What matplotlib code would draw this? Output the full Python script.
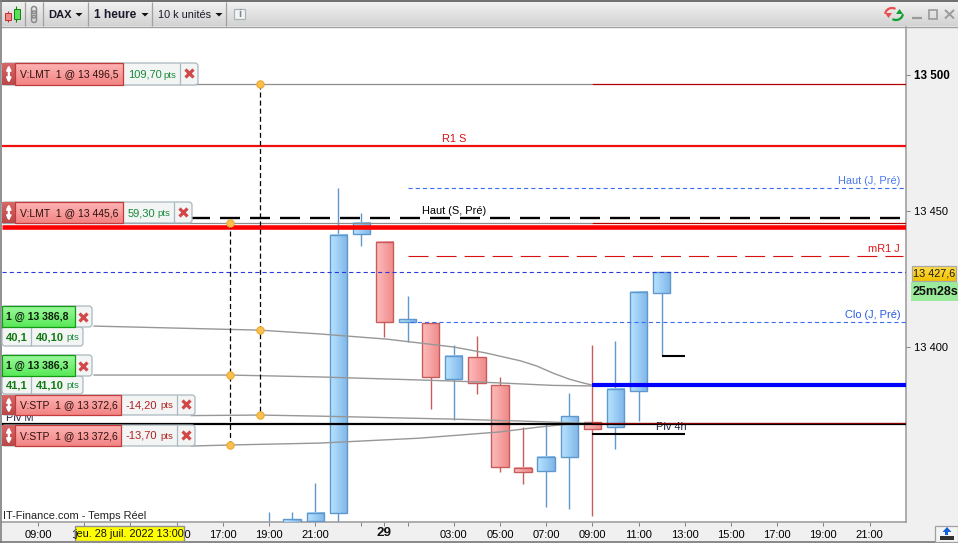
import numpy as np
import matplotlib
matplotlib.use('Agg')
import matplotlib.pyplot as plt
from matplotlib.colors import to_rgb
from matplotlib.patches import Rectangle, FancyBboxPatch, Polygon, Arc

plt.rcParams['font.family'] = ['Liberation Sans', 'DejaVu Sans']
plt.rcParams['lines.scale_dashes'] = False
plt.rcParams['lines.solid_capstyle'] = 'butt'
plt.rcParams['lines.dash_capstyle'] = 'butt'

# heures depuis le 28 juil. 00:00
hours = [19, 20, 21, 22, 23, 24, 25, 26, 27, 28, 29, 30, 31, 32, 33, 34, 35, 36]
opens = [13333.0, 13333.0, 13336.0, 13339.0, 13441.5, 13438.6, 13409.2, 13408.8, 13388.2,
         13396.3, 13386.0, 13355.5, 13354.4, 13359.6, 13372.4, 13370.6, 13383.8, 13419.9]
closes = [13334.0, 13336.8, 13339.0, 13441.2, 13445.6, 13409.2, 13410.3, 13389.0, 13396.7,
          13386.8, 13355.9, 13354.0, 13359.6, 13374.6, 13369.9, 13384.6, 13420.2, 13427.6]
highs = [13339.3, 13339.3, 13350.0, 13458.5, 13449.3, 13438.6, 13418.8, 13408.8, 13400.7,
         13404.0, 13389.0, 13370.6, 13372.1, 13383.1, 13400.7, 13402.2, 13420.2, 13427.6]
lows = [13330.0, 13330.0, 13334.0, 13334.0, 13437.1, 13403.7, 13401.8, 13377.2, 13373.2,
        13382.7, 13354.0, 13349.6, 13341.2, 13340.4, 13337.9, 13362.5, 13372.8, 13396.7]

last_price = 13427.6
r1_s = 13473.9
haut_j = 13458.5
haut_s = 13447.4
order_lmt1 = 13496.5
order_lmt2 = 13445.6
red_thick = 13444.1
mr1_j = 13433.6
clo_j = 13409.2
blue_thick = 13386.0
piv_m = 13371.7
piv_4h = 13368.0

# courbes des ordres
c1_h = [11.4, 18.6, 21.2, 24.1, 27.0, 28.4, 29.9, 30.6, 31.3, 32.0, 32.6, 33.0]
c1_p = [13407.7, 13406.2, 13404.8, 13402.9, 13400.0, 13397.8, 13394.9, 13393.0, 13390.4, 13388.2, 13386.8, 13386.0]
c2_h = [11.4, 17.3, 21.2, 27.0, 29.0, 31.3, 33.0]
c2_p = [13389.7, 13389.7, 13389.0, 13387.5, 13386.8, 13385.9, 13385.7]
c3_h = [15.6, 18.6, 21.2, 27.0, 29.9, 33.0]
c3_p = [13374.8, 13375.0, 13374.6, 13373.5, 13372.8, 13371.9]
c4_h = [15.6, 17.3, 21.2, 25.5, 29.0, 30.7, 32.0, 33.0]
c4_p = [13363.6, 13364.0, 13364.7, 13366.5, 13368.8, 13370.6, 13371.7, 13371.8]

dots_h = [18.6, 18.6, 18.6, 17.3, 17.3, 17.3]
dots_p = [order_lmt1, 13406.2, 13375.0, order_lmt2, 13389.7, 13364.0]

xtick_pos = [9, 11, 13, 15, 17, 19, 21, 24, 27, 29, 31, 33, 35, 37, 39, 41, 43, 45]
xtick_lab = ['09:00', '11:00', '13:00', '15:00', '17:00', '19:00', '21:00', '', '03:00', '05:00',
             '07:00', '09:00', '11:00', '13:00', '15:00', '17:00', '19:00', '21:00']
xminor_pos = [23, 25]
ytick_pos = [13400, 13450, 13500]
ytick_lab = ['13 400', '13 450', '13 500']

W, H = 958, 543
PANEL = '#f0f0f0'
EDGE = '#a0a0a0'


def grad(ax, x0, x1, y0, y1, c0, c1, vertical=False, zorder=2):
    t = np.linspace(0, 1, 32)[:, None]
    arr = np.array(to_rgb(c0)) * (1 - t) + np.array(to_rgb(c1)) * t
    arr = arr[:, None, :] if vertical else arr[None, :, :]
    ax.imshow(arr, extent=(x0, x1, y1, y0), aspect='auto', origin='upper',
              interpolation='nearest', zorder=zorder)


fig = plt.figure(figsize=(W / 100, H / 100), dpi=100, facecolor=PANEL)
ax = fig.add_axes([2 / W, 1 - 522 / H, 904 / W, 495 / H])
ax.set_xlim(7.44, 46.58)
ax.set_ylim(13335.7, 13517.6)
ax.autoscale(False)

# bougies
body_w = 0.75
for h, o, c, hi, lo in zip(hours, opens, closes, highs, lows):
    up = c >= o
    edge = '#5f98cc' if up else '#c75c5c'
    ax.plot([h, h], [lo, hi], color=edge, lw=1.0, zorder=2)
    x0, x1 = h - body_w / 2, h + body_w / 2
    top, bot = max(o, c), min(o, c)
    if h == 19:
        continue
    grad(ax, x0, x1, bot, top, '#b8e5ff' if up else '#ffbcbc', '#7fb5e8' if up else '#ef8a8a', zorder=3)
    ax.add_patch(Rectangle((x0, bot), body_w, top - bot, fc='none', ec=edge, lw=1.0, zorder=4))

xl, xr = ax.get_xlim()
ax.plot([xl, xr], [r1_s, r1_s], color='#f01010', lw=1.6, zorder=5)
ax.plot([25, xr], [haut_j, haut_j], color='#3a6cf0', lw=0.8, ls=(0, (3, 2.2)), zorder=5)
ax.plot([15.6, xr], [haut_s, haut_s], color='black', lw=1.7, ls=(0, (14.4, 7.2)), zorder=5)
ax.plot([xl, 33], [order_lmt1, order_lmt1], color='#8c8c8c', lw=0.9, zorder=5)
ax.plot([33, xr], [order_lmt1, order_lmt1], color='#b00000', lw=0.9, zorder=5)
ax.plot([xl, 33], [order_lmt2, order_lmt2], color='#8c8c8c', lw=0.9, zorder=5)
ax.plot([33, xr], [order_lmt2, order_lmt2], color='#b00000', lw=0.9, zorder=5)
ax.plot([xl, xr], [red_thick, red_thick], color='#ff0000', lw=3.3, zorder=6)
ax.plot([25, 46.43], [mr1_j, mr1_j], color='#d81010', lw=0.8, ls=(0, (14.4, 5.8)), zorder=5)
ax.plot([xl, xr], [last_price, last_price], color='#2a3ad8', lw=0.8, ls=(0, (3, 2.2)), zorder=5)
ax.plot([25.1, xr], [clo_j, clo_j], color='#3a6cf0', lw=0.8, ls=(0, (3, 2.2)), zorder=5)
ax.plot([33, xr], [blue_thick, blue_thick], color='#0000ff', lw=3.0, zorder=6)
ax.plot([33, 37], [piv_4h, piv_4h], color='black', lw=1.5, zorder=6)
ax.plot([36, 37], [lows[-1], lows[-1]], color='black', lw=1.5, zorder=6)

for ch, cp in [(c1_h, c1_p), (c2_h, c2_p), (c3_h, c3_p), (c4_h, c4_p)]:
    ax.plot(ch, cp, color='#979797', lw=1.0, zorder=5)

ax.plot([xl, xr], [piv_m, piv_m], color='black', lw=1.6, zorder=6)
ax.plot([33, xr], [piv_m + 0.4, piv_m + 0.4], color='#8a0000', lw=0.8, zorder=7)

ax.plot([18.6, 18.6], [order_lmt1, 13375.0], color='black', lw=0.9, ls=(0, (3.6, 2.2)), zorder=7)
ax.plot([17.3, 17.3], [order_lmt2, 13364.0], color='black', lw=0.9, ls=(0, (3.6, 2.2)), zorder=7)
ax.scatter(dots_h, dots_p, s=28, color='#fbc04e', edgecolor='#eba92f', linewidth=0.8, zorder=8)

# libelles des niveaux
lab = dict(fontsize=7.9, va='center', zorder=9)
ax.text(27.02, r1_s + 2.6, 'R1 S', color='#d81010', ha='center', **lab)
ax.text(46.33, haut_j + 2.6, 'Haut (J, Pré)', color='#4a78f0', ha='right', **lab)
ax.text(27.02, haut_s + 2.6, 'Haut (S, Pré)', color='black', ha='center', **lab)
ax.text(46.33, mr1_j + 2.6, 'mR1 J', color='#e01818', ha='right', **lab)
ax.text(46.33, clo_j + 2.6, 'Clo (J, Pré)', color='#2a5ae0', ha='right', **lab)
ax.text(36.4, piv_4h + 2.6, 'Piv 4h', color='#222244', ha='center', zorder=5, fontsize=7.9, va='center')
ax.text(7.6, piv_m + 2.2, 'Piv M', color='#222244', ha='left', zorder=5, fontsize=7.9, va='center')

for s in ['top', 'left']:
    ax.spines[s].set_visible(False)
for s in ['bottom', 'right']:
    ax.spines[s].set_color(EDGE)
    ax.spines[s].set_linewidth(1.2)
ax.yaxis.tick_right()
ax.set_yticks(ytick_pos, ytick_lab)
ax.set_xticks(xtick_pos, xtick_lab)
ax.set_xticks(xminor_pos, minor=True)
ax.tick_params(axis='both', which='both', length=3, width=0.7, color='#808080', labelsize=8, pad=3)
ax.tick_params(axis='y', pad=2.4)
for t in ax.get_yticklabels():
    if t.get_text() == '13 500':
        t.set_fontweight('bold')
        t.set_fontsize(8.4)

# calque interface en pixels
ui = fig.add_axes([0, 0, 1, 1])
ui.set_xlim(0, W)
ui.set_ylim(H, 0)
ui.autoscale(False)
ui.axis('off')
ui.patch.set_alpha(0)

ui.text(384, 533.5, '29', fontsize=9.6, fontweight='bold', ha='center', va='center', color='#111111')

# barre du haut
grad(ui, 0, W, 2, 26, '#f2f2f2', '#d2d2d2', vertical=True, zorder=1)
ui.plot([0, W], [1, 1], color='#6e6e6e', lw=1.4, zorder=2)
ui.plot([0, W], [26.5, 26.5], color=EDGE, lw=1.0, zorder=2)
ui.plot([0.7, 0.7], [0, H], color='#808080', lw=1.2, zorder=2)
ui.plot([0, W], [542, 542], color='#777777', lw=1.2, zorder=2)
for sx in [25.5, 43.5, 88, 152.5, 226]:
    ui.plot([sx, sx], [2, 26], color=EDGE, lw=0.9, zorder=2)
ui.text(48, 14.5, 'DAX', fontsize=8, fontweight='bold', va='center', color='#1a1a2a')
ui.text(94, 14.5, '1 heure', fontsize=8.6, fontweight='bold', va='center', color='#1a1a2a')
ui.text(158, 14.5, '10 k unités', fontsize=7.8, va='center', color='#1a1a2a')
for tx in [79, 145, 219]:
    ui.add_patch(Polygon([(tx - 3.5, 13), (tx + 3.5, 13), (tx, 16.5)], fc='#111111', ec='none', zorder=3))

# icones
ui.plot([8, 8], [11, 22], color='#d03030', lw=0.8, zorder=3)
ui.add_patch(Rectangle((5.5, 13), 6, 7, fc='#f08a8a', ec='#c03030', lw=0.7, zorder=4))
ui.plot([16.5, 16.5], [6, 22], color='#108010', lw=0.8, zorder=3)
ui.add_patch(Rectangle((14, 9), 6, 9.5, fc='#58e058', ec='#108010', lw=0.7, zorder=4))
for cy in [10, 14.5, 19]:
    ui.add_patch(FancyBboxPatch((31.5, cy - 3.5), 5, 7, boxstyle='round,pad=0,rounding_size=2.4',
                                fc='none', ec='#8a8a8a', lw=1.1, zorder=4))
ui.add_patch(Rectangle((234.5, 8.5), 10.5, 10.5, fc='#f4f4f4', ec='#a8b4b8', lw=0.9, zorder=3))
ui.text(239.8, 14, 'i', fontsize=8, fontweight='bold', color='#7a8a90', ha='center', va='center', zorder=4)
ui.add_patch(Arc((892, 15), 14, 14, theta1=190, theta2=300, color='#e85050', lw=1.6, zorder=4))
ui.add_patch(Polygon([(885, 13), (892, 13), (888.5, 18)], fc='#e85050', ec='none', zorder=4))
ui.add_patch(Arc((896, 13), 14, 14, theta1=10, theta2=120, color='#10a030', lw=1.6, zorder=4))
ui.add_patch(Polygon([(896, 14), (903, 14), (899.5, 9)], fc='#10a030', ec='none', zorder=4))
ui.plot([912, 922], [18, 18], color='#9a9a9a', lw=1.6, zorder=4)
ui.add_patch(Rectangle((929, 10), 8.5, 8.5, fc='none', ec='#9a9a9a', lw=1.2, zorder=4))
ui.plot([945, 954], [10, 18.5], color='#9a9a9a', lw=1.4, zorder=4)
ui.plot([945, 954], [18.5, 10], color='#9a9a9a', lw=1.4, zorder=4)

# etiquettes d'ordres
red_tags = [
    (63, 85, 123, 180, 198, 'V:LMT  1 @ 13 496,5', '109,70', 163, '#178a3a'),
    (202, 223, 123, 174, 192, 'V:LMT  1 @ 13 445,6', '59,30', 157, '#178a3a'),
    (395, 415, 121, 177, 195, 'V:STP  1 @ 13 372,6', '-14,20', 160, '#b02020'),
    (425, 446, 121, 177, 195, 'V:STP  1 @ 13 372,6', '-13,70', 160, '#b02020'),
]
for y0, y1, xm, xp, xc, txt, val, xpts, col in red_tags:
    ui.add_patch(FancyBboxPatch((2, y0), xc - 2, y1 - y0, boxstyle='round,pad=0,rounding_size=3',
                                fc='#f3f5f5', ec='#a9b8be', lw=0.9, zorder=10))
    grad(ui, 15, xm, y0, y1, '#ffb4b4', '#f28484', vertical=True, zorder=11)
    ui.add_patch(Rectangle((15, y0), xm - 15, y1 - y0, fc='none', ec='#c23a3a', lw=0.9, zorder=12))
    grad(ui, 2, 15, y0, y1, '#d86868', '#b84848', vertical=True, zorder=11)
    ui.plot([xp, xp], [y0, y1], color='#a9b8be', lw=0.9, zorder=12)
    ui.annotate('', xy=(8.8, y0 + 2), xytext=(8.8, y1 - 2), zorder=13,
                arrowprops=dict(arrowstyle='<|-|>', color='white', lw=1.6, mutation_scale=6,
                                shrinkA=0, shrinkB=0))
    ui.text(20, (y0 + y1) / 2 + 0.5, txt, fontsize=7.5, va='center', color='#301010', zorder=13)
    ui.text(xm + 5, (y0 + y1) / 2 + 0.5, val, fontsize=8, va='center', color=col, zorder=13)
    ui.text(xpts, (y0 + y1) / 2 + 1, 'pts', fontsize=6.8, va='center', color=col, zorder=13)
    ui.plot([(xp + xc) / 2], [(y0 + y1) / 2 - 1], marker='x', ms=5.5, mew=2.3, color='#d24848', zorder=13)

green_tags = [
    (306, 327, 346, '1 @ 13 386,8', '40,1', '40,10'),
    (355, 376, 394, '1 @ 13 386,3', '41,1', '41,10'),
]
for y0, y1, y2, txt, v1, v2 in green_tags:
    ui.add_patch(FancyBboxPatch((2, y1), 81, y2 - y1, boxstyle='round,pad=0,rounding_size=3',
                                fc='#f3f5f5', ec='#a9b8be', lw=0.9, zorder=10))
    ui.plot([31.5, 31.5], [y1, y2], color='#a9b8be', lw=0.9, zorder=11)
    ui.add_patch(FancyBboxPatch((2, y0), 90, y1 - y0, boxstyle='round,pad=0,rounding_size=3',
                                fc='#f3f5f5', ec='#a9b8be', lw=0.9, zorder=10))
    grad(ui, 2, 75, y0, y1, '#9cf89c', '#58e858', vertical=True, zorder=11)
    ui.add_patch(Rectangle((2, y0), 73, y1 - y0, fc='none', ec='#149a14', lw=0.9, zorder=12))
    ui.text(6, (y0 + y1) / 2 + 0.5, txt, fontsize=7.6, fontweight='bold', va='center', color='#102010', zorder=13)
    ui.text(6, (y1 + y2) / 2 + 0.5, v1, fontsize=8, fontweight='bold', va='center', color='#107a10', zorder=13)
    ui.text(36, (y1 + y2) / 2 + 0.5, v2, fontsize=8, fontweight='bold', va='center', color='#107a10', zorder=13)
    ui.text(66, (y1 + y2) / 2 + 1, 'pts', fontsize=6.8, va='center', color='#178a3a', zorder=13)
    ui.plot([83.5], [(y0 + y1) / 2], marker='x', ms=5.5, mew=2.3, color='#d24848', zorder=13)

# prix courant et compte a rebours
grad(ui, 912, 956, 266, 281, '#ffdc4a', '#f2c200', vertical=True, zorder=10)
ui.add_patch(Rectangle((912, 266), 44, 15, fc='none', ec='#a8a8a8', lw=0.9, zorder=11))
ui.text(934, 274, '13 427,6', fontsize=7.8, ha='center', va='center', color='#1a1a1a', zorder=12)
ui.add_patch(Rectangle((911.5, 282), 46.5, 19, fc='#9ceb9c', ec='none', zorder=10))
ui.text(912.5, 292, '25m28s', fontsize=9, fontweight='bold', va='center', color='#101010', zorder=12)

# date sous le curseur, bas de page
ui.add_patch(Rectangle((75, 526), 109, 15, fc='#ffff00', ec='#909090', lw=1.0, zorder=10))
ui.text(129.5, 534, 'jeu. 28 juil. 2022 13:00', fontsize=7.8, ha='center', va='center', color='#111111', zorder=11)
ui.text(3, 516, 'IT-Finance.com - Temps Réel', fontsize=7.9, va='center', color='#222222', zorder=9)
ui.add_patch(Rectangle((935.5, 525.5), 22.5, 16, fc='#f4f4f4', ec=EDGE, lw=0.9, zorder=10))
ui.add_patch(Polygon([(942.5, 532), (951.5, 532), (947, 527)], fc='#1060d8', ec='none', zorder=11))
ui.add_patch(Rectangle((945.5, 531.5), 3, 3.5, fc='#1060d8', ec='none', zorder=11))
ui.add_patch(Rectangle((940, 535.5), 14, 4, fc='#303030', ec='none', zorder=11))

fig.savefig('out.png', dpi=100, facecolor=fig.get_facecolor())
